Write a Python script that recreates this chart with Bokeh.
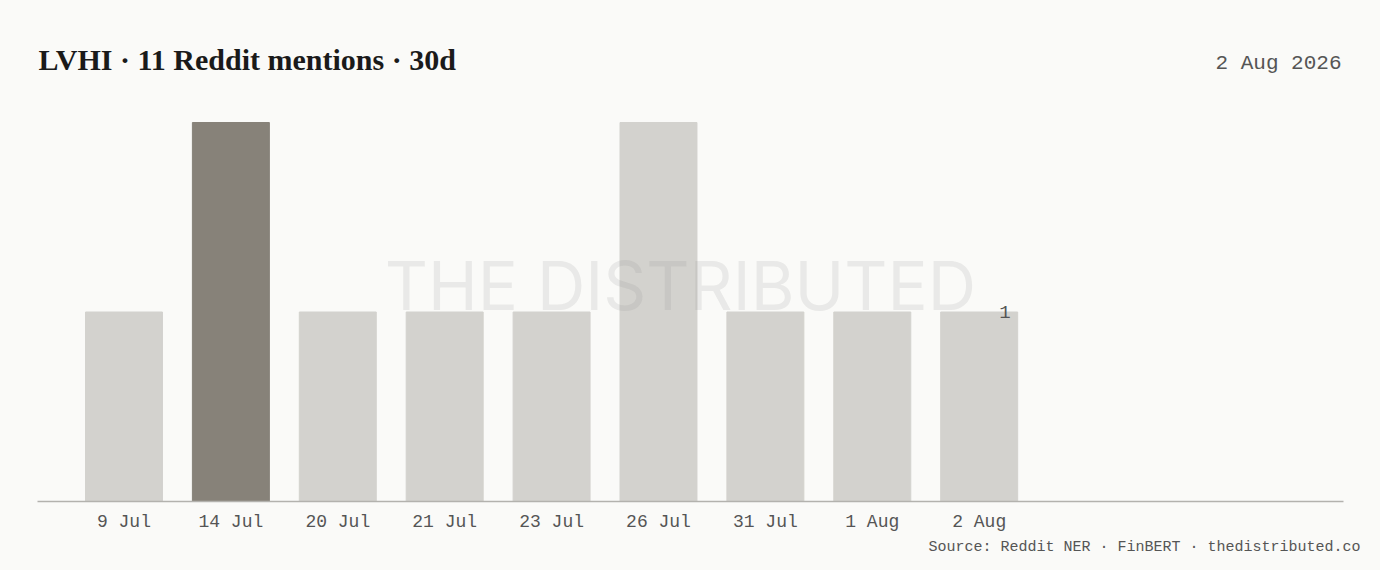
from bokeh.plotting import figure
from bokeh.models import Range1d, FixedTicker, Label, ColumnDataSource, Title
from bokeh.embed import file_html
from bokeh.resources import INLINE

# ---- data ----
dates = ["9 Jul", "14 Jul", "20 Jul", "21 Jul", "23 Jul", "26 Jul", "31 Jul", "1 Aug", "2 Aug"]
mentions = [1, 2, 1, 1, 1, 2, 1, 1, 1]
highlight = [False, True, False, False, False, False, False, False, False]
title_text = "LVHI · 11 Reddit mentions · 30d"
date_text = "2 Aug 2026"
source_text = "Source: Reddit NER · FinBERT · thedistributed.co"
watermark_text = "THE DISTRIBUTED"
last_label = "1"

BG = "#FAFAF8"
BAR = "#D3D2CE"
BAR_HI = "#878279"
MONO = "Liberation Mono"

idx = list(range(len(dates)))
colors = [BAR_HI if h else BAR for h in highlight]
src = ColumnDataSource(dict(x=idx, top=mentions, color=colors))

p = figure(width=1380, height=570, output_backend="svg", toolbar_location=None,
           x_range=Range1d(-0.809, 11.408), y_range=Range1d(0, 2.6438),
           min_border_left=37, min_border_right=37, min_border_top=0,
           min_border_bottom=69)
p.background_fill_color = BG
p.border_fill_color = BG
p.outline_line_color = None
p.grid.visible = False

p.vbar(x="x", top="top", width=0.72, bottom=0, color="color", source=src)

# watermark
p.add_layout(Label(x=643, y=216, x_units="screen", y_units="screen",
                   text=watermark_text, text_font="Inter",
                   text_font_size="67px", text_color="#8a8a86", text_alpha=0.14,
                   text_align="center", text_baseline="middle"))

# axes
p.yaxis.visible = False
xa = p.xaxis[0]
xa.ticker = FixedTicker(ticks=idx)
xa.major_label_overrides = {i: d for i, d in zip(idx, dates)}
xa.major_tick_line_color = None
xa.minor_tick_line_color = None
xa.axis_line_color = "#B3B2AE"
xa.axis_line_width = 1.5
xa.major_label_text_font = MONO
xa.major_label_text_font_size = "18px"
xa.major_label_text_color = "#555555"
xa.major_label_standoff = 4

# value label on last bar
p.add_layout(Label(x=idx[-1] + 0.36, y=mentions[-1], x_offset=-7,
                   text=last_label, text_font=MONO, text_font_size="19px",
                   text_color="#555555", text_align="right", text_baseline="middle"))

# title
p.add_layout(Label(x=1, y=442, x_units="screen", y_units="screen",
                   text=title_text, text_font="Liberation Serif", text_font_style="bold",
                   text_font_size="30px", text_color="#1a1a1a",
                   text_align="left", text_baseline="alphabetic"))
# date
p.add_layout(Label(x=1304, y=438, x_units="screen", y_units="screen",
                   text=date_text, text_font=MONO, text_font_size="21px",
                   text_color="#555555", text_align="right", text_baseline="alphabetic"))
# source
p.add_layout(Title(text=source_text, align="right", text_font=MONO,
                   text_font_size="15px", text_font_style="normal",
                   text_color="#555555", offset=-17, standoff=5), "below")

html = file_html(p, INLINE)
html = html.replace("<body>", '<body style="background:#FAFAF8">')
open("out.html", "w").write(html)
